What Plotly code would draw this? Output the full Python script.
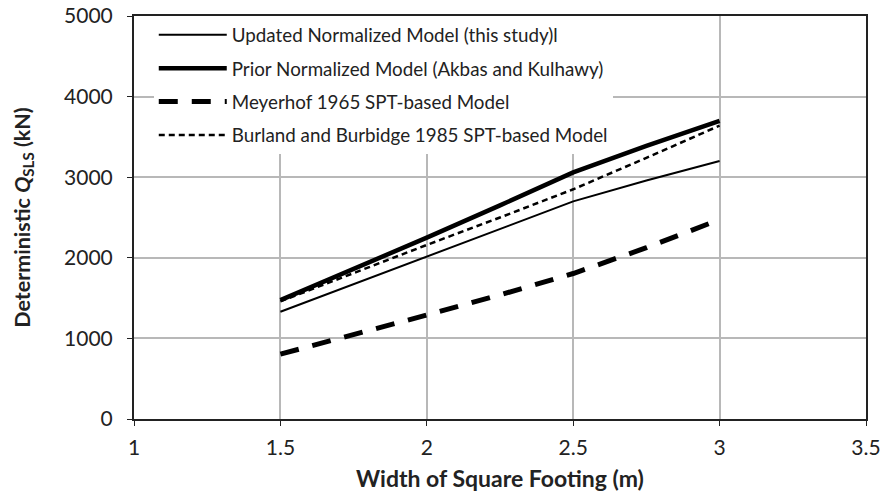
import plotly.graph_objects as go

# Footing width B (m)
width_m = [1.5, 1.75, 2.0, 2.25, 2.5, 2.75, 3.0]

# Deterministic serviceability capacity Q_SLS (kN) for each model
updated_model = [1330, 1675, 2020, 2360, 2700, 2960, 3200]
prior_model = [1475, 1860, 2250, 2650, 3060, 3390, 3700]
meyerhof_1965 = [805, 1040, 1290, 1540, 1805, 2125, 2475]
burland_1985 = [1460, 1810, 2160, 2500, 2850, 3240, 3640]

series_names = [
    "Updated Normalized Model (this study)l",
    "Prior Normalized Model (Akbas and Kulhawy)",
    "Meyerhof 1965 SPT-based Model",
    "Burland and Burbidge 1985 SPT-based Model",
]

x_ticks = [1, 1.5, 2, 2.5, 3, 3.5]
y_ticks = [0, 1000, 2000, 3000, 4000, 5000]

FONT = "Lato, 'Open Sans', sans-serif"
INK = "#222222"

fig = go.Figure()

styles = [
    dict(width=2, dash="solid"),
    dict(width=4.5, dash="solid"),
    dict(width=5, dash="19px,14px"),
    dict(width=2.5, dash="6px,4px"),
]
data = [updated_model, prior_model, meyerhof_1965, burland_1985]

for i, (name, ys, st) in enumerate(zip(series_names, data, styles)):
    fig.add_trace(go.Scatter(
        x=width_m, y=ys, name=name, mode="lines",
        line=dict(color="black", width=st["width"], dash=st["dash"]),
        legendgroup=f"g{i}",
    ))

fig.update_layout(
    width=883, height=492,
    margin=dict(l=134, r=17, t=16, b=73),
    paper_bgcolor="white", plot_bgcolor="white",
    font=dict(family=FONT, color=INK),
    showlegend=True,
    legend=dict(
        x=0.027, y=1.0, xanchor="left", yanchor="top",
        bgcolor="white", borderwidth=0,
        font=dict(size=18.8, family=FONT, color=INK),
        itemwidth=68, tracegroupgap=6,
        traceorder="grouped",
    ),
)

fig.update_xaxes(
    range=[1, 3.5], tickvals=x_ticks, ticktext=[f"{v:g}" for v in x_ticks],
    showgrid=True, gridcolor="#b8b8b8", gridwidth=1.5,
    showline=True, linecolor=INK, linewidth=2, mirror=True,
    ticks="outside", ticklen=5, tickcolor=INK, ticklabelstandoff=4,
    tickfont=dict(size=21, family=FONT, color=INK),
    title=dict(text="<b>Width of Square Footing (m)</b>", standoff=13,
               font=dict(size=23, family=FONT, color=INK)),
    zeroline=False, automargin=False,
)
fig.update_yaxes(
    range=[0, 5000], tickvals=y_ticks, ticktext=[str(v) for v in y_ticks],
    showgrid=True, gridcolor="#b8b8b8", gridwidth=1.5,
    showline=True, linecolor=INK, linewidth=2, mirror=True,
    ticks="outside", ticklen=5, tickcolor=INK, ticklabelstandoff=10,
    tickfont=dict(size=21, family=FONT, color=INK),
    title=dict(text="<b>Deterministic <i>Q</i><sub>SLS</sub> (kN)</b>", standoff=28,
               font=dict(size=21.5, family=FONT, color=INK)),
    zeroline=False, automargin=False,
)

fig.write_html("out.html")
